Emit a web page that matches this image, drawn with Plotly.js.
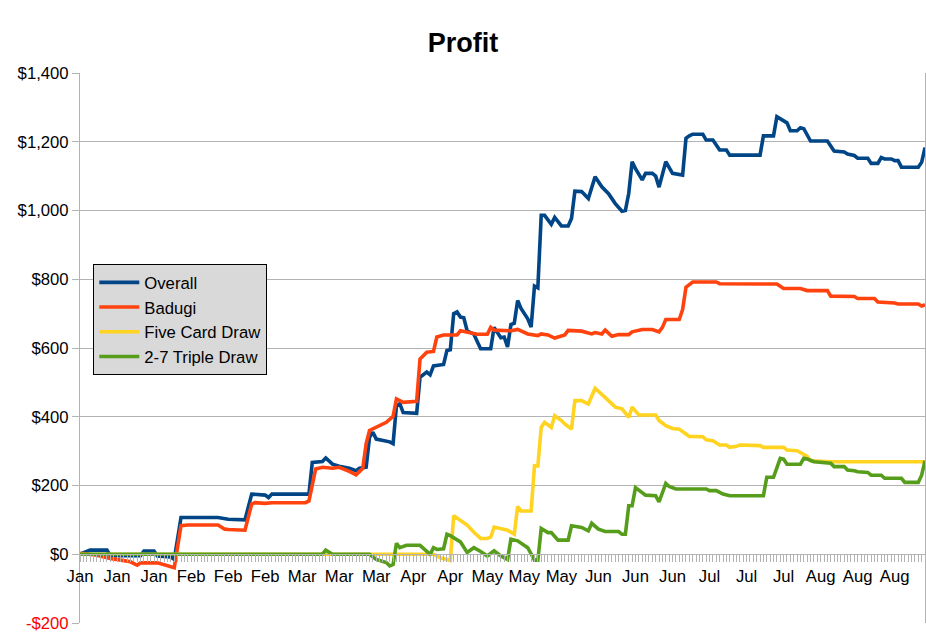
<!DOCTYPE html>
<html>
<head>
<meta charset="utf-8">
<script src="https://cdn.plot.ly/plotly-3.0.1.min.js"></script>
<style>
  html, body { margin: 0; padding: 0; background: #fff; }
  #chart { width: 926px; height: 634px; }
</style>
</head>
<body>
<div id="chart"></div>
<script>
// one category per day, a month label every 11th day
var dayCount = 252;
var labelStep = 11;
var tickLabels = [ 'Jan', 'Jan', 'Jan', 'Feb', 'Feb', 'Feb', 'Mar', 'Mar', 'Mar', 'Apr', 'Apr',
    'May', 'May', 'May', 'Jun', 'Jun', 'Jun', 'Jul', 'Jul', 'Jul', 'Aug', 'Aug', 'Aug' ];

var seriesNames = [ 'Overall', 'Badugi', 'Five Card Draw', '2-7 Triple Draw' ];
var seriesColors = [ '#004586', '#ff420e', '#ffd320', '#579d1c' ];

// day index / profit pairs (turning points of each line)
var overallDay = [ 0, 3, 8, 9, 18, 19, 22, 23, 27, 28, 30, 41, 44, 49, 51, 55, 56, 57, 68, 69, 72, 73, 75, 77, 80, 82, 83, 85, 86, 87, 88, 92, 93, 94, 95, 96, 100, 101, 103, 104, 105, 108, 109, 110, 111, 112, 113, 114, 115, 117, 119, 122, 123, 125, 126, 127, 128, 129, 130, 131, 133, 134, 135, 136, 137, 138, 140, 141, 143, 145, 146, 147, 149, 151, 153, 155, 157, 159, 161, 162, 163, 164, 165, 167, 168, 170, 171, 172, 174, 176, 179, 180, 181, 182, 185, 186, 188, 190, 192, 193, 195, 202, 203, 206, 207, 209, 210, 211, 213, 214, 215, 217, 222, 224, 227, 228, 230, 231, 234, 235, 237, 238, 239, 241, 242, 243, 244, 249, 250, 251 ];
var overallProfit = [ 0, 12, 12, -4, -4, 9, 9, -5, -8, -15, 107, 107, 102, 100, 175, 172, 165, 175, 175, 267, 270, 280, 262, 256, 250, 243, 250, 253, 340, 355, 335, 327, 322, 432, 438, 412, 410, 515, 530, 522, 548, 552, 593, 595, 700, 705, 690, 688, 650, 640, 598, 598, 660, 630, 632, 603, 668, 672, 738, 715, 685, 661, 780, 775, 986, 986, 960, 980, 955, 955, 977, 1056, 1055, 1035, 1098, 1069, 1049, 1020, 998, 1000, 1050, 1142, 1122, 1089, 1108, 1108, 1100, 1068, 1142, 1108, 1103, 1210, 1217, 1222, 1222, 1205, 1205, 1176, 1176, 1161, 1161, 1161, 1217, 1217, 1273, 1259, 1255, 1232, 1232, 1241, 1238, 1202, 1202, 1173, 1170, 1164, 1160, 1152, 1152, 1137, 1137, 1154, 1150, 1150, 1145, 1145, 1126, 1126, 1140, 1183 ];

var badugiDay = [ 0, 5, 9, 13, 15, 17, 18, 23, 26, 28, 30, 32, 41, 43, 44, 49, 51, 52, 55, 57, 67, 68, 70, 72, 75, 77, 80, 82, 84, 85, 86, 88, 91, 93, 94, 96, 100, 101, 103, 105, 106, 108, 112, 113, 115, 118, 121, 122, 123, 128, 130, 133, 136, 137, 139, 141, 144, 145, 149, 152, 153, 155, 156, 157, 158, 160, 163, 164, 167, 170, 172, 173, 174, 178, 179, 180, 182, 189, 190, 207, 208, 209, 214, 216, 222, 223, 230, 231, 236, 237, 242, 243, 249, 250, 251 ];
var badugiProfit = [ 3, -3, -12, -20, -22, -32, -25, -25, -32, -39, 83, 85, 85, 73, 72, 70, 146, 150, 148, 150, 150, 155, 248, 253, 250, 253, 241, 231, 250, 322, 360, 369, 384, 401, 452, 442, 445, 568, 588, 590, 632, 638, 638, 650, 645, 640, 640, 660, 652, 650, 654, 641, 636, 641, 638, 629, 638, 651, 649, 641, 645, 641, 652, 643, 634, 639, 639, 647, 654, 654, 647, 660, 683, 683, 712, 777, 792, 792, 787, 786, 780, 773, 773, 767, 767, 751, 750, 744, 744, 734, 731, 728, 728, 722, 726 ];

var fiveCardDay = [ 0, 105, 107, 110, 111, 113, 115, 117, 119, 121, 122, 123, 125, 127, 129, 130, 131, 134, 135, 136, 137, 138, 140, 141, 143, 144, 146, 147, 149, 151, 153, 155, 157, 159, 161, 163, 164, 166, 171, 172, 174, 176, 178, 180, 181, 185, 186, 188, 190, 192, 193, 195, 196, 202, 203, 209, 210, 213, 215, 216, 217, 223, 251 ];
var fiveCardProfit = [ 0, 0, -10, -18, 112, 97, 85, 64, 46, 46, 50, 79, 75, 70, 58, 139, 126, 126, 257, 257, 369, 384, 369, 403, 389, 379, 364, 447, 447, 437, 483, 466, 447, 428, 423, 398, 428, 405, 405, 389, 374, 366, 364, 350, 343, 342, 333, 330, 318, 318, 311, 314, 318, 316, 311, 311, 303, 301, 292, 285, 272, 269, 269 ];

var tripleDrawDay = [ 0, 72, 73, 75, 86, 88, 91, 92, 93, 94, 95, 97, 101, 104, 105, 106, 108, 109, 110, 113, 115, 117, 119, 121, 123, 125, 127, 128, 130, 133, 135, 136, 137, 139, 140, 142, 145, 146, 149, 151, 152, 154, 156, 160, 161, 162, 163, 164, 165, 168, 171, 172, 174, 175, 177, 186, 187, 189, 191, 193, 203, 204, 206, 208, 209, 210, 214, 215, 216, 218, 223, 224, 227, 228, 230, 231, 234, 235, 238, 239, 244, 245, 249, 250, 251 ];
var tripleDrawProfit = [ 0, 0, 12, 0, 0, -15, -24, -34, -30, 32, 19, 26, 26, 0, 19, 14, 16, 58, 54, 36, 5, 19, 8, -5, 10, -5, -15, 44, 39, 19, -17, -17, 75, 63, 63, 41, 41, 83, 78, 68, 90, 73, 66, 66, 58, 58, 141, 141, 194, 172, 170, 152, 206, 197, 190, 190, 185, 185, 175, 170, 170, 224, 224, 279, 277, 262, 262, 279, 277, 269, 265, 255, 255, 245, 243, 240, 238, 230, 230, 221, 221, 209, 209, 230, 272 ];

var yTicks = [ -200, 0, 200, 400, 600, 800, 1000, 1200, 1400 ];
var yTickText = [ '<span style="color:#ff0000">-$200</span>', '$0', '$200', '$400', '$600', '$800', '$1,000', '$1,200', '$1,400' ];

var gray = '#b3b3b3';
var fontFamily = '"Liberation Sans", Arial, sans-serif';

// every day gets a tick mark, only every 11th one a month name
var xTickVals = [];
var xTickText = [];
for ( let i = 0; i < dayCount; ++i ) {
    xTickVals.push( i );
    xTickText.push( i % labelStep === 0 ? tickLabels[ i / labelStep ] : '' );
}

function lineTrace( k, days, profit ) {
    return {
        x: days,
        y: profit,
        name: seriesNames[ k ],
        type: 'scatter',
        mode: 'lines',
        line: { color: seriesColors[ k ], width: 3.6 },
        hoverinfo: 'skip'
    };
}

var data = [
    lineTrace( 0, overallDay, overallProfit ),
    lineTrace( 1, badugiDay, badugiProfit ),
    lineTrace( 2, fiveCardDay, fiveCardProfit ),
    lineTrace( 3, tripleDrawDay, tripleDrawProfit )
];

var yMin = yTicks[ 0 ];
var yMax = yTicks[ yTicks.length - 1 ];

var layout = {
    width: 926,
    height: 634,
    margin: { l: 80, r: 1, t: 73, b: 11 },
    paper_bgcolor: '#ffffff',
    plot_bgcolor: '#ffffff',
    font: { family: fontFamily, size: 16.7, color: '#000000' },
    title: {
        text: 'Profit',
        font: { family: fontFamily, size: 27, weight: 'bold', color: '#000000' },
        x: 0.5,
        xref: 'container',
        xanchor: 'center',
        y: 1 - 42.5 / 634,
        yref: 'container',
        yanchor: 'middle'
    },
    xaxis: {
        range: [ 0, dayCount - 1 ],
        anchor: 'free',
        // category axis crosses the value axis at $0
        position: ( 0 - yMin ) / ( yMax - yMin ),
        tickmode: 'array',
        tickvals: xTickVals,
        ticktext: xTickText,
        ticks: 'outside',
        ticklen: 7,
        tickwidth: 1,
        tickcolor: gray,
        showline: true,
        linecolor: gray,
        linewidth: 1,
        showgrid: false,
        zeroline: false,
        tickfont: { family: fontFamily, size: 16.7, color: '#000000' }
    },
    yaxis: {
        range: [ yMin, yMax ],
        tickmode: 'array',
        tickvals: yTicks,
        ticktext: yTickText,
        ticks: 'outside',
        ticklen: 7,
        tickwidth: 1,
        tickcolor: gray,
        showline: true,
        mirror: true,
        linecolor: gray,
        linewidth: 1,
        showgrid: true,
        gridcolor: gray,
        gridwidth: 1,
        zeroline: false,
        tickfont: { family: fontFamily, size: 16.7, color: '#000000' }
    },
    showlegend: true,
    legend: {
        x: 13.3 / 845,
        xanchor: 'left',
        y: ( 623 - 264 ) / 550,
        yanchor: 'top',
        bgcolor: '#d9d9d9',
        bordercolor: '#000000',
        borderwidth: 1,
        itemwidth: 40,
        font: { family: fontFamily, size: 16.7, color: '#000000' }
    }
};

Plotly.newPlot( 'chart', data, layout, { displayModeBar: false, staticPlot: true } );
</script>
</body>
</html>
